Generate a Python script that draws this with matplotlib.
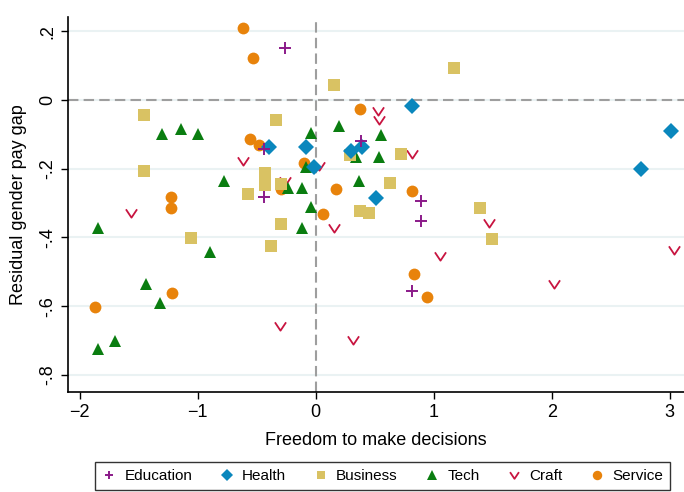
import numpy as np
import matplotlib.pyplot as plt
from matplotlib.path import Path

plt.rcParams['font.family'] = ['Liberation Sans', 'DejaVu Sans']

# freedom to make decisions (x) vs residual gender pay gap (y), by occupation group
edu_x = [-0.263, 0.381, -0.441, -0.441, 0.890, 0.890, 0.814]
edu_y = [0.151, -0.119, -0.143, -0.282, -0.294, -0.352, -0.556]

health_x = [-0.398, -0.085, -0.017, 0.814, 0.297, 0.390, 0.508, 2.754, 3.008]
health_y = [-0.137, -0.137, -0.195, -0.017, -0.148, -0.137, -0.285, -0.201, -0.090]

bus_x = [-1.458, -1.458, -0.339, -0.432, -0.432, -0.297, -0.576, 0.153, 1.169, 0.720,
         0.288, 0.627, 0.373, 0.449, 1.390, 1.492, -0.297, -0.381, -1.059]
bus_y = [-0.044, -0.207, -0.058, -0.213, -0.247, -0.245, -0.274, 0.044, 0.093, -0.157,
         -0.160, -0.242, -0.323, -0.329, -0.314, -0.405, -0.361, -0.425, -0.402]

tech_x = [-1.305, -1.144, -1.000, -0.780, -0.042, -0.085, -0.237, -0.119, -0.042, -0.119,
          0.195, 0.551, 0.339, 0.534, 0.364, -1.847, -0.898, -1.441, -1.322, -1.703, -1.847]
tech_y = [-0.099, -0.084, -0.099, -0.236, -0.096, -0.195, -0.256, -0.256, -0.312, -0.373,
          -0.076, -0.102, -0.166, -0.166, -0.236, -0.373, -0.443, -0.536, -0.591, -0.702, -0.725]

craft_x = [-0.619, -0.263, 0.525, 0.534, 0.814, 0.025, -1.568, -0.305, 0.153, 1.466,
           1.051, 2.017, 3.034, 0.314]
craft_y = [-0.178, -0.236, -0.032, -0.058, -0.157, -0.192, -0.329, -0.658, -0.373, -0.358,
           -0.454, -0.536, -0.437, -0.699]

serv_x = [-0.619, -0.534, -0.559, -0.483, -0.102, -0.297, 0.373, 0.169, 0.814, -1.229,
          -1.229, -1.220, -1.873, 0.059, 0.831, 0.941]
serv_y = [0.210, 0.122, -0.114, -0.131, -0.183, -0.259, -0.026, -0.259, -0.265, -0.282,
          -0.314, -0.562, -0.603, -0.332, -0.507, -0.574]

x_ticks = [-2, -1, 0, 1, 2, 3]
y_ticks = [0.2, 0, -0.2, -0.4, -0.6, -0.8]
y_ticklabels = ['.2', '0', '-.2', '-.4', '-.6', '-.8']

# open "v" marker
v_marker = Path([(-1, 0.75), (0, -0.75), (1, 0.75)],
                [Path.MOVETO, Path.LINETO, Path.LINETO])

groups = [
    ('Education', edu_x, edu_y, dict(marker='+', color='#8b1a89', ms=8, mew=1.4)),
    ('Health', health_x, health_y, dict(marker='D', color='#0a87bd', ms=8, mew=0)),
    ('Business', bus_x, bus_y, dict(marker='s', color='#d9c263', ms=8, mew=0)),
    ('Tech', tech_x, tech_y, dict(marker='^', color='#0a7d10', ms=9, mew=0)),
    ('Craft', craft_x, craft_y, dict(marker=v_marker, color='#c81440', ms=8, mew=1.3,
                                     mfc='none')),
    ('Service', serv_x, serv_y, dict(marker='o', color='#e8830b', ms=8.5, mew=0)),
]

fig = plt.figure(figsize=(6.84, 4.92), dpi=100)
ax = fig.add_axes([0.0994, 0.2033, 0.9006, 0.7621])

ax.set_xlim(-2.10, 3.12)
ax.set_ylim(-0.850, 0.242)

for y in y_ticks:
    ax.axhline(y, color='#eaf2f3', lw=1.5, zorder=0)
ax.axhline(0, color='#9e9e9e', lw=1.5, ls=(0, (5, 2.5)), zorder=1)
ax.axvline(0, color='#9e9e9e', lw=1.5, ls=(0, (5, 2.5)), zorder=1)

handles = {}
# later groups sit underneath, so draw in reverse
for z, (name, xs, ys, st) in enumerate(reversed(groups)):
    kw = dict(st)
    col = kw.pop('color')
    ln, = ax.plot(xs, ys, ls='none', color=col, mec=col, zorder=2 + z, **kw)
    handles[name] = ln

ax.spines['top'].set_visible(False)
ax.spines['right'].set_visible(False)
ax.spines['left'].set_linewidth(1.2)
ax.spines['bottom'].set_linewidth(1.2)

ax.set_xticks(x_ticks)
ax.set_yticks(y_ticks)
ax.set_yticklabels(y_ticklabels, rotation=90, va='center')
ax.tick_params(direction='out', length=5, width=1, labelsize=13, colors='black')

ax.set_xlabel('Freedom to make decisions', fontsize=13, labelpad=8)
ax.set_ylabel('Residual gender pay gap', fontsize=13, labelpad=9)

leg = fig.legend([handles[g[0]] for g in groups], [g[0] for g in groups],
                 loc='center', bbox_to_anchor=(0.559, 0.0325), ncol=6,
                 frameon=True, fancybox=False, edgecolor='black', fontsize=11,
                 handlelength=1.0, handletextpad=0.5, columnspacing=1.75,
                 borderpad=0.45, markerscale=0.8)
leg.get_frame().set_linewidth(1.0)

fig.savefig('out.png', dpi=100)
